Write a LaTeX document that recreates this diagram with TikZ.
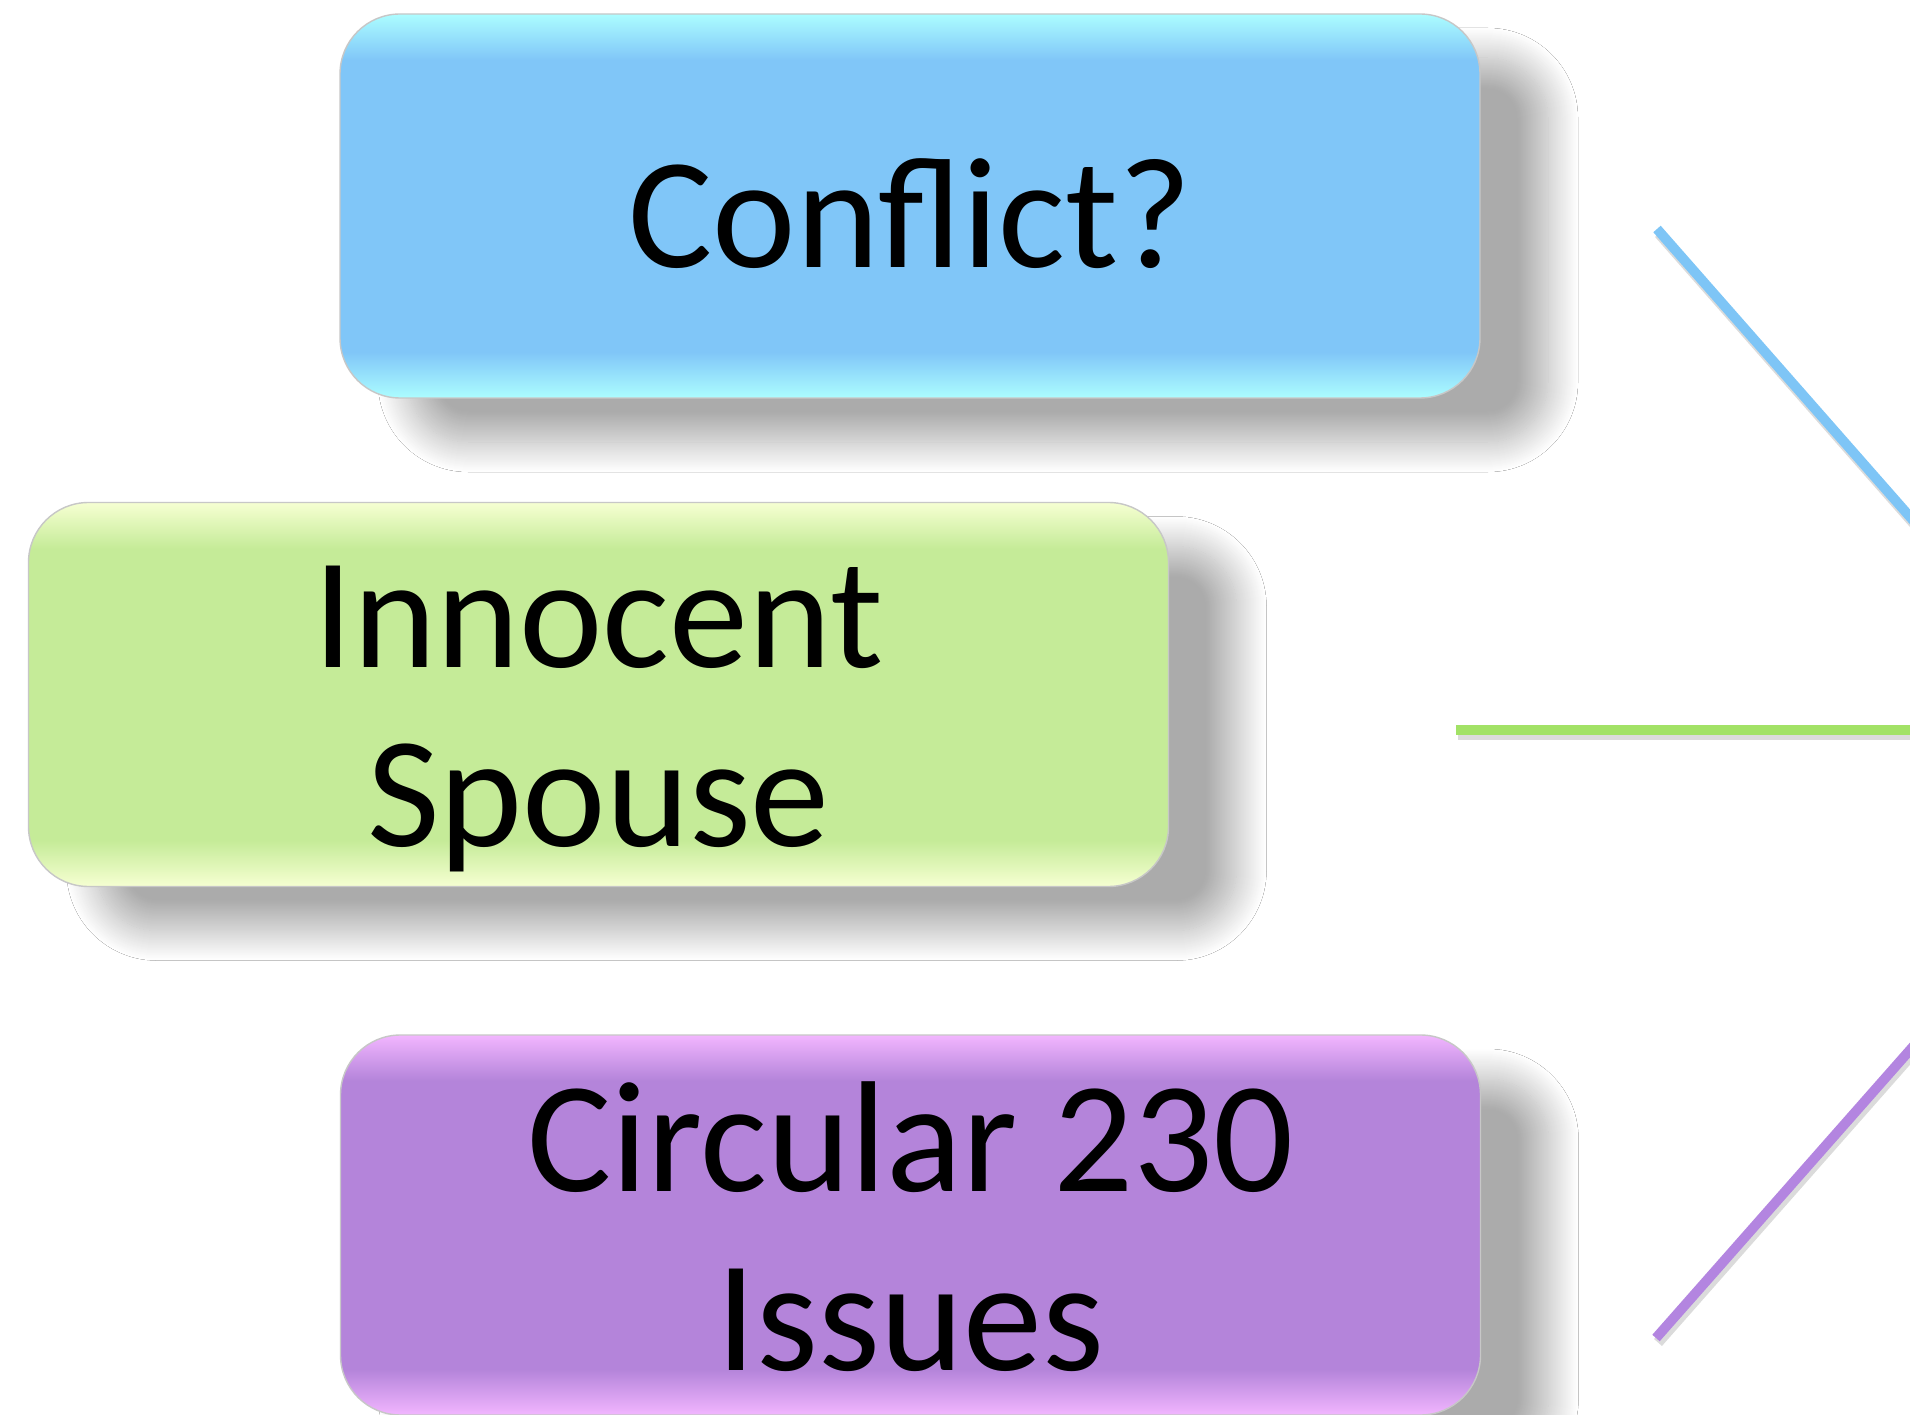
\documentclass[tikz,border=0pt]{standalone}
\usepackage{fontspec}
\setmainfont{Carlito}
\usetikzlibrary{shadows.blur}
\definecolor{conflictblue}{HTML}{80C6F8}
\definecolor{conflictedge}{HTML}{ACFDFF}
\definecolor{spousegreen}{HTML}{C5EB98}
\definecolor{spouseedge}{HTML}{F6FFD2}
\definecolor{circularviolet}{HTML}{B484DA}
\definecolor{circularedge}{HTML}{F2B6FF}
\definecolor{blueline}{HTML}{7EC5F6}
\definecolor{greenline}{HTML}{A2E266}
\definecolor{violetline}{HTML}{B385E0}
\pgfdeclareverticalshading{conflictshade}{100bp}{color(0bp)=(conflictedge); color(25bp)=(conflictedge); color(31bp)=(conflictblue); color(69bp)=(conflictblue); color(75bp)=(conflictedge); color(100bp)=(conflictedge)}
\pgfdeclareverticalshading{spouseshade}{100bp}{color(0bp)=(spouseedge); color(25bp)=(spouseedge); color(31bp)=(spousegreen); color(69bp)=(spousegreen); color(75bp)=(spouseedge); color(100bp)=(spouseedge)}
\pgfdeclareverticalshading{circularshade}{100bp}{color(0bp)=(circularedge); color(25bp)=(circularedge); color(31bp)=(circularviolet); color(69bp)=(circularviolet); color(75bp)=(circularedge); color(100bp)=(circularedge)}
\begin{document}
\begin{tikzpicture}[
    box/.style = {draw=black!22, line width=0.4pt, rounded corners=0.6cm,
        minimum width=11.4cm, minimum height=3.84cm, align=center,
        font=\fontsize{45}{51}\selectfont,
        blur shadow={shadow xshift=0.68cm, shadow yshift=-0.44cm,
            shadow blur radius=0.3cm, shadow blur steps=30, shadow opacity=33}},
    spoke/.style = {line width=2.8pt},
    spokeshadow/.style = {line width=3pt, black, opacity=0.14}]
        \useasboundingbox (0,0) rectangle (19.10,-14.15);
        \clip (0,0) rectangle (19.10,-14.15);
        \fill [white] (0,0) rectangle (19.10,-14.15);
        % boxes
        \node[box, shade, shading=conflictshade] (conflict) at (9.10,-2.06) {\rule{0pt}{1.25cm}Conflict?};
        \node[box, shade, shading=spouseshade] (spouse) at (5.985,-6.945) {\rule{0pt}{1.5cm}Innocent\\Spouse};
        \node[box, shade, shading=circularshade, minimum height=3.80cm] (circular) at (9.105,-12.25) {\rule{0pt}{1.13cm}Circular 230\\Issues};
        % spokes
        \coordinate (blueA) at (16.57,-2.29);
        \coordinate (blueB) at (19.40,-5.51);
        \coordinate (greenA) at (14.56,-7.30);
        \coordinate (greenB) at (19.40,-7.30);
        \coordinate (violetA) at (16.56,-13.38);
        \coordinate (violetB) at (19.40,-10.16);
        \draw [spokeshadow] ([shift={(0.02,-0.045)}]blueA) -- ([shift={(0.02,-0.045)}]blueB);
        \draw [spokeshadow] ([shift={(0.02,-0.045)}]greenA) -- ([shift={(0.02,-0.045)}]greenB);
        \draw [spokeshadow] ([shift={(0.02,-0.045)}]violetA) -- ([shift={(0.02,-0.045)}]violetB);
        \draw [spoke, blueline] (blueA) -- (blueB);
        \draw [spoke, greenline] (greenA) -- (greenB);
        \draw [spoke, violetline] (violetA) -- (violetB);
    \end{tikzpicture}
\end{document}
